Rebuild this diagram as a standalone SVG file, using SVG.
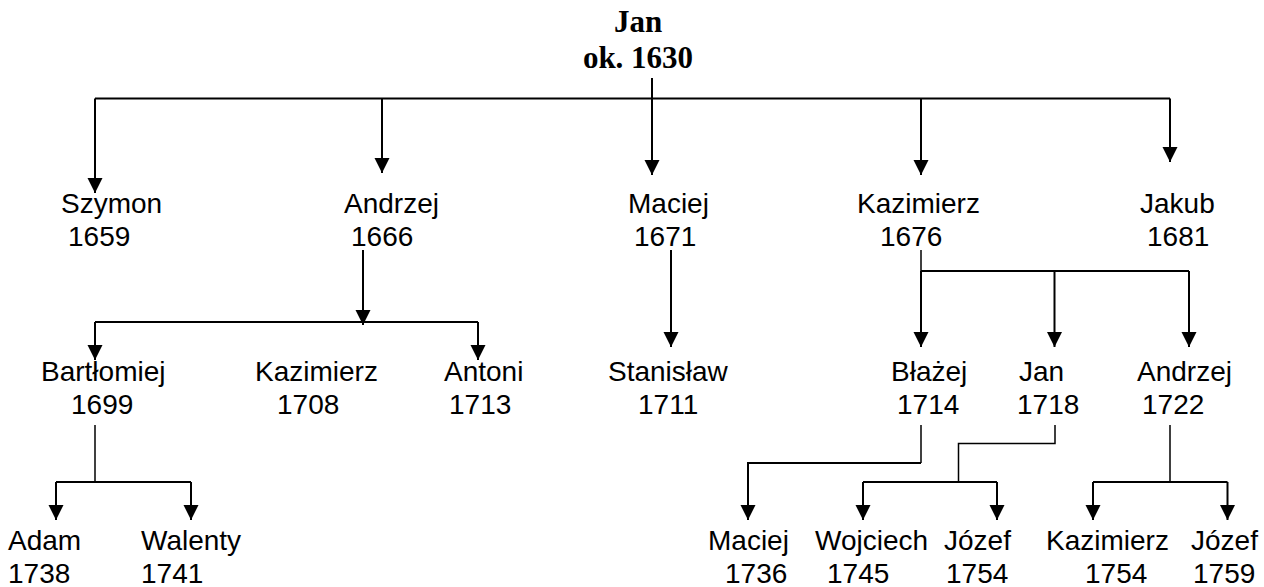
<svg xmlns="http://www.w3.org/2000/svg" width="1264" height="587" viewBox="0 0 1264 587">
<defs>
<style>
.t{font-family:"Liberation Sans",Arial,sans-serif;font-size:28px;fill:#000}
.h{font-family:"Liberation Serif","Times New Roman",serif;font-size:31px;font-weight:bold;fill:#000;text-anchor:middle}
.c{fill:none;stroke:#000;stroke-width:2}
.a{fill:none;stroke:#000;stroke-width:2;marker-end:url(#ah)}
.s{fill:none;stroke:#000;stroke-width:1.5}
</style>
<marker id="ah" markerUnits="userSpaceOnUse" markerWidth="16" markerHeight="16" refX="15" refY="8" orient="auto" viewBox="0 0 16 16">
<path d="M0,0.5 L15,8 L0,15.5 Z" fill="#000"/>
</marker>
</defs>
<rect width="1264" height="587" fill="#fff"/>
<g id="connectors">
<path class="a" d="M652,78 V175"/>
<path class="c" d="M95,98.5 H1170"/>
<path class="a" d="M95,98.5 V193"/>
<path class="a" d="M382,98.5 V173"/>
<path class="a" d="M921,98.5 V175"/>
<path class="a" d="M1170,98.5 V162"/>
<path class="a" d="M363,250 V325"/>
<path class="c" d="M95,322 H478"/>
<path class="a" d="M95,322 V360"/>
<path class="a" d="M478,322 V360"/>
<path class="a" d="M671,250 V347"/>
<path class="s" d="M921,250 V271"/>
<path class="c" d="M921,271 H1189"/>
<path class="a" d="M921,271 V347"/>
<path class="a" d="M1054.5,271 V347"/>
<path class="a" d="M1189,271 V347"/>
<path class="s" d="M95,425 V482"/>
<path class="c" d="M56,482 H191"/>
<path class="a" d="M56,482 V520"/>
<path class="a" d="M191,482 V520"/>
<path class="s" d="M921,425 V463"/>
<path class="a" d="M921,463 H748 V520"/>
<path class="s" d="M1055,425 V443.5 H958.5 V482"/>
<path class="c" d="M863,482 H997"/>
<path class="a" d="M863,482 V520"/>
<path class="a" d="M997,482 V520"/>
<path class="s" d="M1170,425 V482"/>
<path class="c" d="M1093,482 H1227.5"/>
<path class="a" d="M1093,482 V520"/>
<path class="a" d="M1227.5,482 V520"/>
</g>
<g id="n-jan"><text class="h" x="638" y="32">Jan</text><text class="h" x="638" y="68">ok. 1630</text></g>
<g id="n-szymon"><text class="t" x="61" y="213">Szymon</text><text class="t" x="68" y="246">1659</text></g>
<g id="n-andrzej1"><text class="t" x="344" y="213">Andrzej</text><text class="t" x="351" y="246">1666</text></g>
<g id="n-maciej1"><text class="t" x="628" y="213">Maciej</text><text class="t" x="634" y="246">1671</text></g>
<g id="n-kazimierz1"><text class="t" x="857" y="213">Kazimierz</text><text class="t" x="880" y="246">1676</text></g>
<g id="n-jakub"><text class="t" x="1140" y="213">Jakub</text><text class="t" x="1147" y="246">1681</text></g>
<g id="n-bartlomiej"><text class="t" x="41" y="381">Bartłomiej</text><text class="t" x="71" y="414">1699</text></g>
<g id="n-kazimierz2"><text class="t" x="255" y="381">Kazimierz</text><text class="t" x="277" y="414">1708</text></g>
<g id="n-antoni"><text class="t" x="444" y="381">Antoni</text><text class="t" x="449" y="414">1713</text></g>
<g id="n-stanislaw"><text class="t" x="608" y="381">Stanisław</text><text class="t" x="638" y="414">1711</text></g>
<g id="n-blazej"><text class="t" x="891" y="381">Błażej</text><text class="t" x="897" y="414">1714</text></g>
<g id="n-jan2"><text class="t" x="1019" y="381">Jan</text><text class="t" x="1017" y="414">1718</text></g>
<g id="n-andrzej2"><text class="t" x="1137" y="381">Andrzej</text><text class="t" x="1142" y="414">1722</text></g>
<g id="n-adam"><text class="t" x="8" y="550">Adam</text><text class="t" x="8" y="583">1738</text></g>
<g id="n-walenty"><text class="t" x="141" y="550">Walenty</text><text class="t" x="141" y="583">1741</text></g>
<g id="n-maciej2"><text class="t" x="708" y="550">Maciej</text><text class="t" x="725" y="583">1736</text></g>
<g id="n-wojciech"><text class="t" x="815" y="550">Wojciech</text><text class="t" x="827" y="583">1745</text></g>
<g id="n-jozef1"><text class="t" x="944" y="550">Józef</text><text class="t" x="946" y="583">1754</text></g>
<g id="n-kazimierz3"><text class="t" x="1046" y="550">Kazimierz</text><text class="t" x="1085" y="583">1754</text></g>
<g id="n-jozef2"><text class="t" x="1191" y="550">Józef</text><text class="t" x="1193" y="583">1759</text></g>
</svg>
